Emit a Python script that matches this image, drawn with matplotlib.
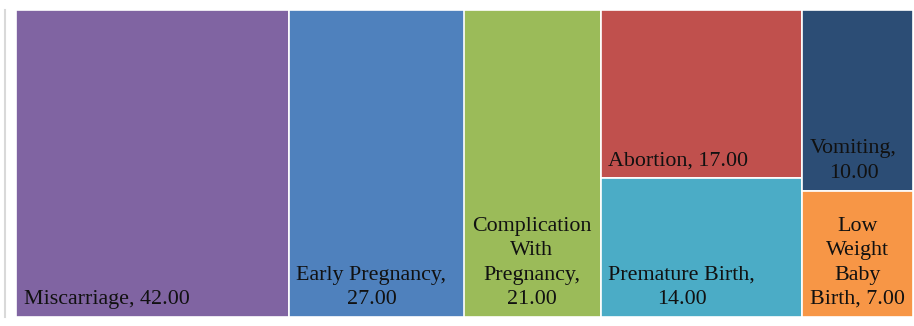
import matplotlib
matplotlib.use("Agg")
import matplotlib.pyplot as plt
from matplotlib.patches import Rectangle
from matplotlib.lines import Line2D

# data
categories = ["Miscarriage", "Early Pregnancy", "Complication With Pregnancy",
              "Abortion", "Premature Birth", "Vomiting", "Low Weight Baby Birth"]
values = [42, 27, 21, 17, 14, 10, 7]
labels = ["Miscarriage, 42.00", "Early Pregnancy,\n27.00",
          "Complication\nWith\nPregnancy,\n21.00", "Abortion, 17.00",
          "Premature Birth,\n14.00", "Vomiting,\n10.00",
          "Low\nWeight\nBaby\nBirth, 7.00"]
colors = ["#8064A2", "#4F81BD", "#9BBB59", "#C0504D", "#4BACC6", "#2C4D75", "#F79646"]
# which categories share a column (indices)
columns = [[0], [1], [2], [3, 4], [5, 6]]

W, H = 914, 326
fig = plt.figure(figsize=(W/100, H/100), dpi=100)
x0, x1, y0, y1 = 16, 913, 10, 317
ax = fig.add_axes([x0/W, 1-y1/H, (x1-x0)/W, (y1-y0)/H])
ax.set_xlim(0, 1)
ax.set_ylim(0, 1)
ax.axis("off")

# thin grey line at the left
fig.add_artist(Line2D([5/W, 5/W], [1-y1/H, 1-y0/H], color="#d9d9d9", lw=1.5))

total = float(sum(values))
x = 0
for col in columns:
    s = sum(values[i] for i in col)
    w = s/total
    ytop = 1
    for i in col:
        h = values[i]/s
        yb = ytop - h
        ax.add_patch(Rectangle((x, yb), w, h, facecolor=colors[i],
                               edgecolor="white", lw=1.2))
        ax.annotate(labels[i], (x, yb), xytext=(7.5*0.72, 8*0.72),
                    textcoords="offset points", ha="left", va="bottom",
                    multialignment="center", fontsize=15.8,
                    family="Liberation Serif", color="#111111", linespacing=1.38)
        ytop = yb
    x += w

fig.savefig("out.png", dpi=100)
